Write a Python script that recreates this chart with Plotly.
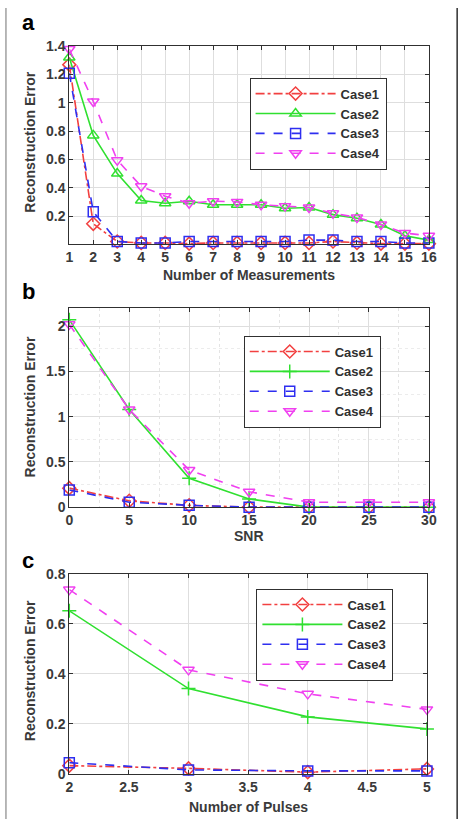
import plotly.graph_objects as go

# ---------------- data ----------------
cases = ["Case1", "Case2", "Case3", "Case4"]

meas_x = list(range(1, 17))
meas_case1 = [1.27, 0.145, 0.02, 0.01, 0.01, 0.005, 0.01, 0.01, 0.01, 0.01, 0.01, 0.02, 0.01, 0.005, 0.005, 0.005]
meas_case2 = [1.32, 0.77, 0.50, 0.31, 0.29, 0.305, 0.28, 0.28, 0.28, 0.255, 0.26, 0.21, 0.185, 0.14, 0.06, 0.03]
meas_case3 = [1.21, 0.23, 0.02, 0.01, 0.01, 0.02, 0.02, 0.02, 0.02, 0.02, 0.03, 0.03, 0.02, 0.02, 0.01, 0.01]
meas_case4 = [1.38, 1.01, 0.595, 0.41, 0.34, 0.29, 0.305, 0.30, 0.28, 0.27, 0.26, 0.22, 0.19, 0.14, 0.08, 0.06]

snr_x = [0, 5, 10, 15, 20, 25, 30]
snr_case1 = [0.21, 0.07, 0.02, 0.0, 0.0, 0.0, 0.0]
snr_case2 = [2.07, 1.08, 0.32, 0.09, 0.0, 0.0, 0.0]
snr_case3 = [0.19, 0.055, 0.02, 0.0, 0.0, 0.0, 0.0]
snr_case4 = [2.02, 1.08, 0.41, 0.17, 0.055, 0.055, 0.055]

pulse_x = [2, 3, 4, 5]
pulse_case1 = [0.033, 0.022, 0.007, 0.02]
pulse_case2 = [0.652, 0.341, 0.228, 0.18]
pulse_case3 = [0.045, 0.016, 0.012, 0.012]
pulse_case4 = [0.737, 0.416, 0.32, 0.258]

colors = ["#f24040", "#30e030", "#2e2ef0", "#f040f0"]
dashes = ["dashdot", "solid", "dash", "dash"]

W, H = 471, 827
def px_x(p): return p / W
def px_y(p): return 1 - p / H

fig = go.Figure()

panels = [
    dict(x=meas_x, ys=[meas_case1, meas_case2, meas_case3, meas_case4],
         symbols=["diamond-open", "triangle-up-open", "square-open", "triangle-down-open"],
         xa="x", ya="y", legend="legend"),
    dict(x=snr_x, ys=[snr_case1, snr_case2, snr_case3, snr_case4],
         symbols=["diamond-open", "cross-thin-open", "square-open", "triangle-down-open"],
         xa="x2", ya="y2", legend="legend2"),
    dict(x=pulse_x, ys=[pulse_case1, pulse_case2, pulse_case3, pulse_case4],
         symbols=["diamond-open", "cross-thin-open", "square-open", "triangle-down-open"],
         xa="x3", ya="y3", legend="legend3"),
]

for p in panels:
    for i, name in enumerate(cases):
        fig.add_trace(go.Scatter(
            x=p["x"], y=p["ys"][i], name=name, mode="lines+markers",
            line=dict(color=colors[i], width=1.6, dash=dashes[i]),
            marker=dict(symbol=p["symbols"][i], size=10, color=colors[i],
                        line=dict(color=colors[i], width=1.5)),
            xaxis=p["xa"], yaxis=p["ya"], legend=p["legend"], cliponaxis=False,
        ))

tickfont = dict(family="Liberation Sans", size=14, color="#3a3a3a", weight="bold")
axis_common = dict(showline=True, linecolor="#303030", linewidth=1, mirror="ticks",
                   ticks="inside", ticklen=4, tickcolor="#303030",
                   showgrid=True, gridcolor="#dedede", gridwidth=1,
                   zeroline=False, tickfont=tickfont)

fig.update_layout(
    xaxis=dict(domain=[px_x(67), px_x(436)], range=[1, 16], tickvals=meas_x,
               anchor="y", **axis_common),
    yaxis=dict(domain=[px_y(241), px_y(39)], range=[0, 1.4],
               tickvals=[0.2, 0.4, 0.6, 0.8, 1.0, 1.2, 1.4],
               ticktext=["0.2", "0.4", "0.6", "0.8", "1", "1.2", "1.4"],
               anchor="x", **axis_common),
    xaxis2=dict(domain=[px_x(67), px_x(436)], range=[0, 30], tickvals=snr_x,
                anchor="y2",
                minor=dict(dtick=2.5, showgrid=True, gridcolor="#e4e4e4", griddash="dot", ticks=""),
                **axis_common),
    yaxis2=dict(domain=[px_y(509), px_y(306)], range=[0, 2.2],
                tickvals=[0, 0.5, 1, 1.5, 2], ticktext=["0", "0.5", "1", "1.5", "2"],
                anchor="x2",
                minor=dict(dtick=0.25, showgrid=True, gridcolor="#ececec", griddash="dot", ticks=""),
                **axis_common),
    xaxis3=dict(domain=[px_x(67), px_x(434)], range=[2, 5],
                tickvals=[2, 2.5, 3, 3.5, 4, 4.5, 5],
                ticktext=["2", "2.5", "3", "3.5", "4", "4.5", "5"],
                anchor="y3", **axis_common),
    yaxis3=dict(domain=[px_y(781), px_y(577)], range=[0, 0.8],
                tickvals=[0, 0.2, 0.4, 0.6, 0.8], ticktext=["0", "0.2", "0.4", "0.6", "0.8"],
                anchor="x3", **axis_common),
)

legend_common = dict(bgcolor="white", bordercolor="#303030", borderwidth=1,
                     font=dict(family="Liberation Sans", size=13, color="#303030", weight="bold"),
                     xanchor="left", yanchor="top", tracegroupgap=0, itemwidth=80,
                     itemsizing="trace")
fig.update_layout(
    legend=dict(x=px_x(252), y=px_y(71), **legend_common),
    legend2=dict(x=px_x(246), y=px_y(334), **legend_common),
    legend3=dict(x=px_x(259), y=px_y(592), **legend_common),
)

title_font = dict(family="Liberation Sans", size=14, color="#3a3a3a", weight="bold")
annotations = []
for yc in [137, 407, 676]:
    annotations.append(dict(text="Reconstruction Error", x=px_x(27), y=px_y(yc),
                            xref="paper", yref="paper", showarrow=False, textangle=-90,
                            font=title_font, xanchor="center", yanchor="middle"))
for txt, yc in [("Number of Measurements", 272), ("SNR", 538), ("Number of Pulses", 815)]:
    annotations.append(dict(text=txt, x=px_x(251), y=px_y(yc), xref="paper", yref="paper",
                            showarrow=False, font=title_font, xanchor="center", yanchor="middle"))
for txt, yc in [("a", 15), ("b", 289), ("c", 563)]:
    annotations.append(dict(text=txt, x=px_x(25), y=px_y(yc), xref="paper", yref="paper",
                            showarrow=False, xanchor="center", yanchor="middle",
                            font=dict(family="Liberation Sans", size=22, color="black", weight="bold")))

shapes = [
    dict(type="line", xref="paper", yref="paper", x0=px_x(2), x1=px_x(2), y0=0, y1=1,
         line=dict(color="#a0a0a0", width=1.5)),
    dict(type="line", xref="paper", yref="paper", x0=px_x(465), x1=px_x(465), y0=0, y1=1,
         line=dict(color="#303030", width=1.5)),
]

fig.update_layout(width=W, height=H, margin=dict(l=0, r=0, t=0, b=0),
                  paper_bgcolor="white", plot_bgcolor="white",
                  annotations=annotations, shapes=shapes, showlegend=True)

fig.write_html("out.html")
